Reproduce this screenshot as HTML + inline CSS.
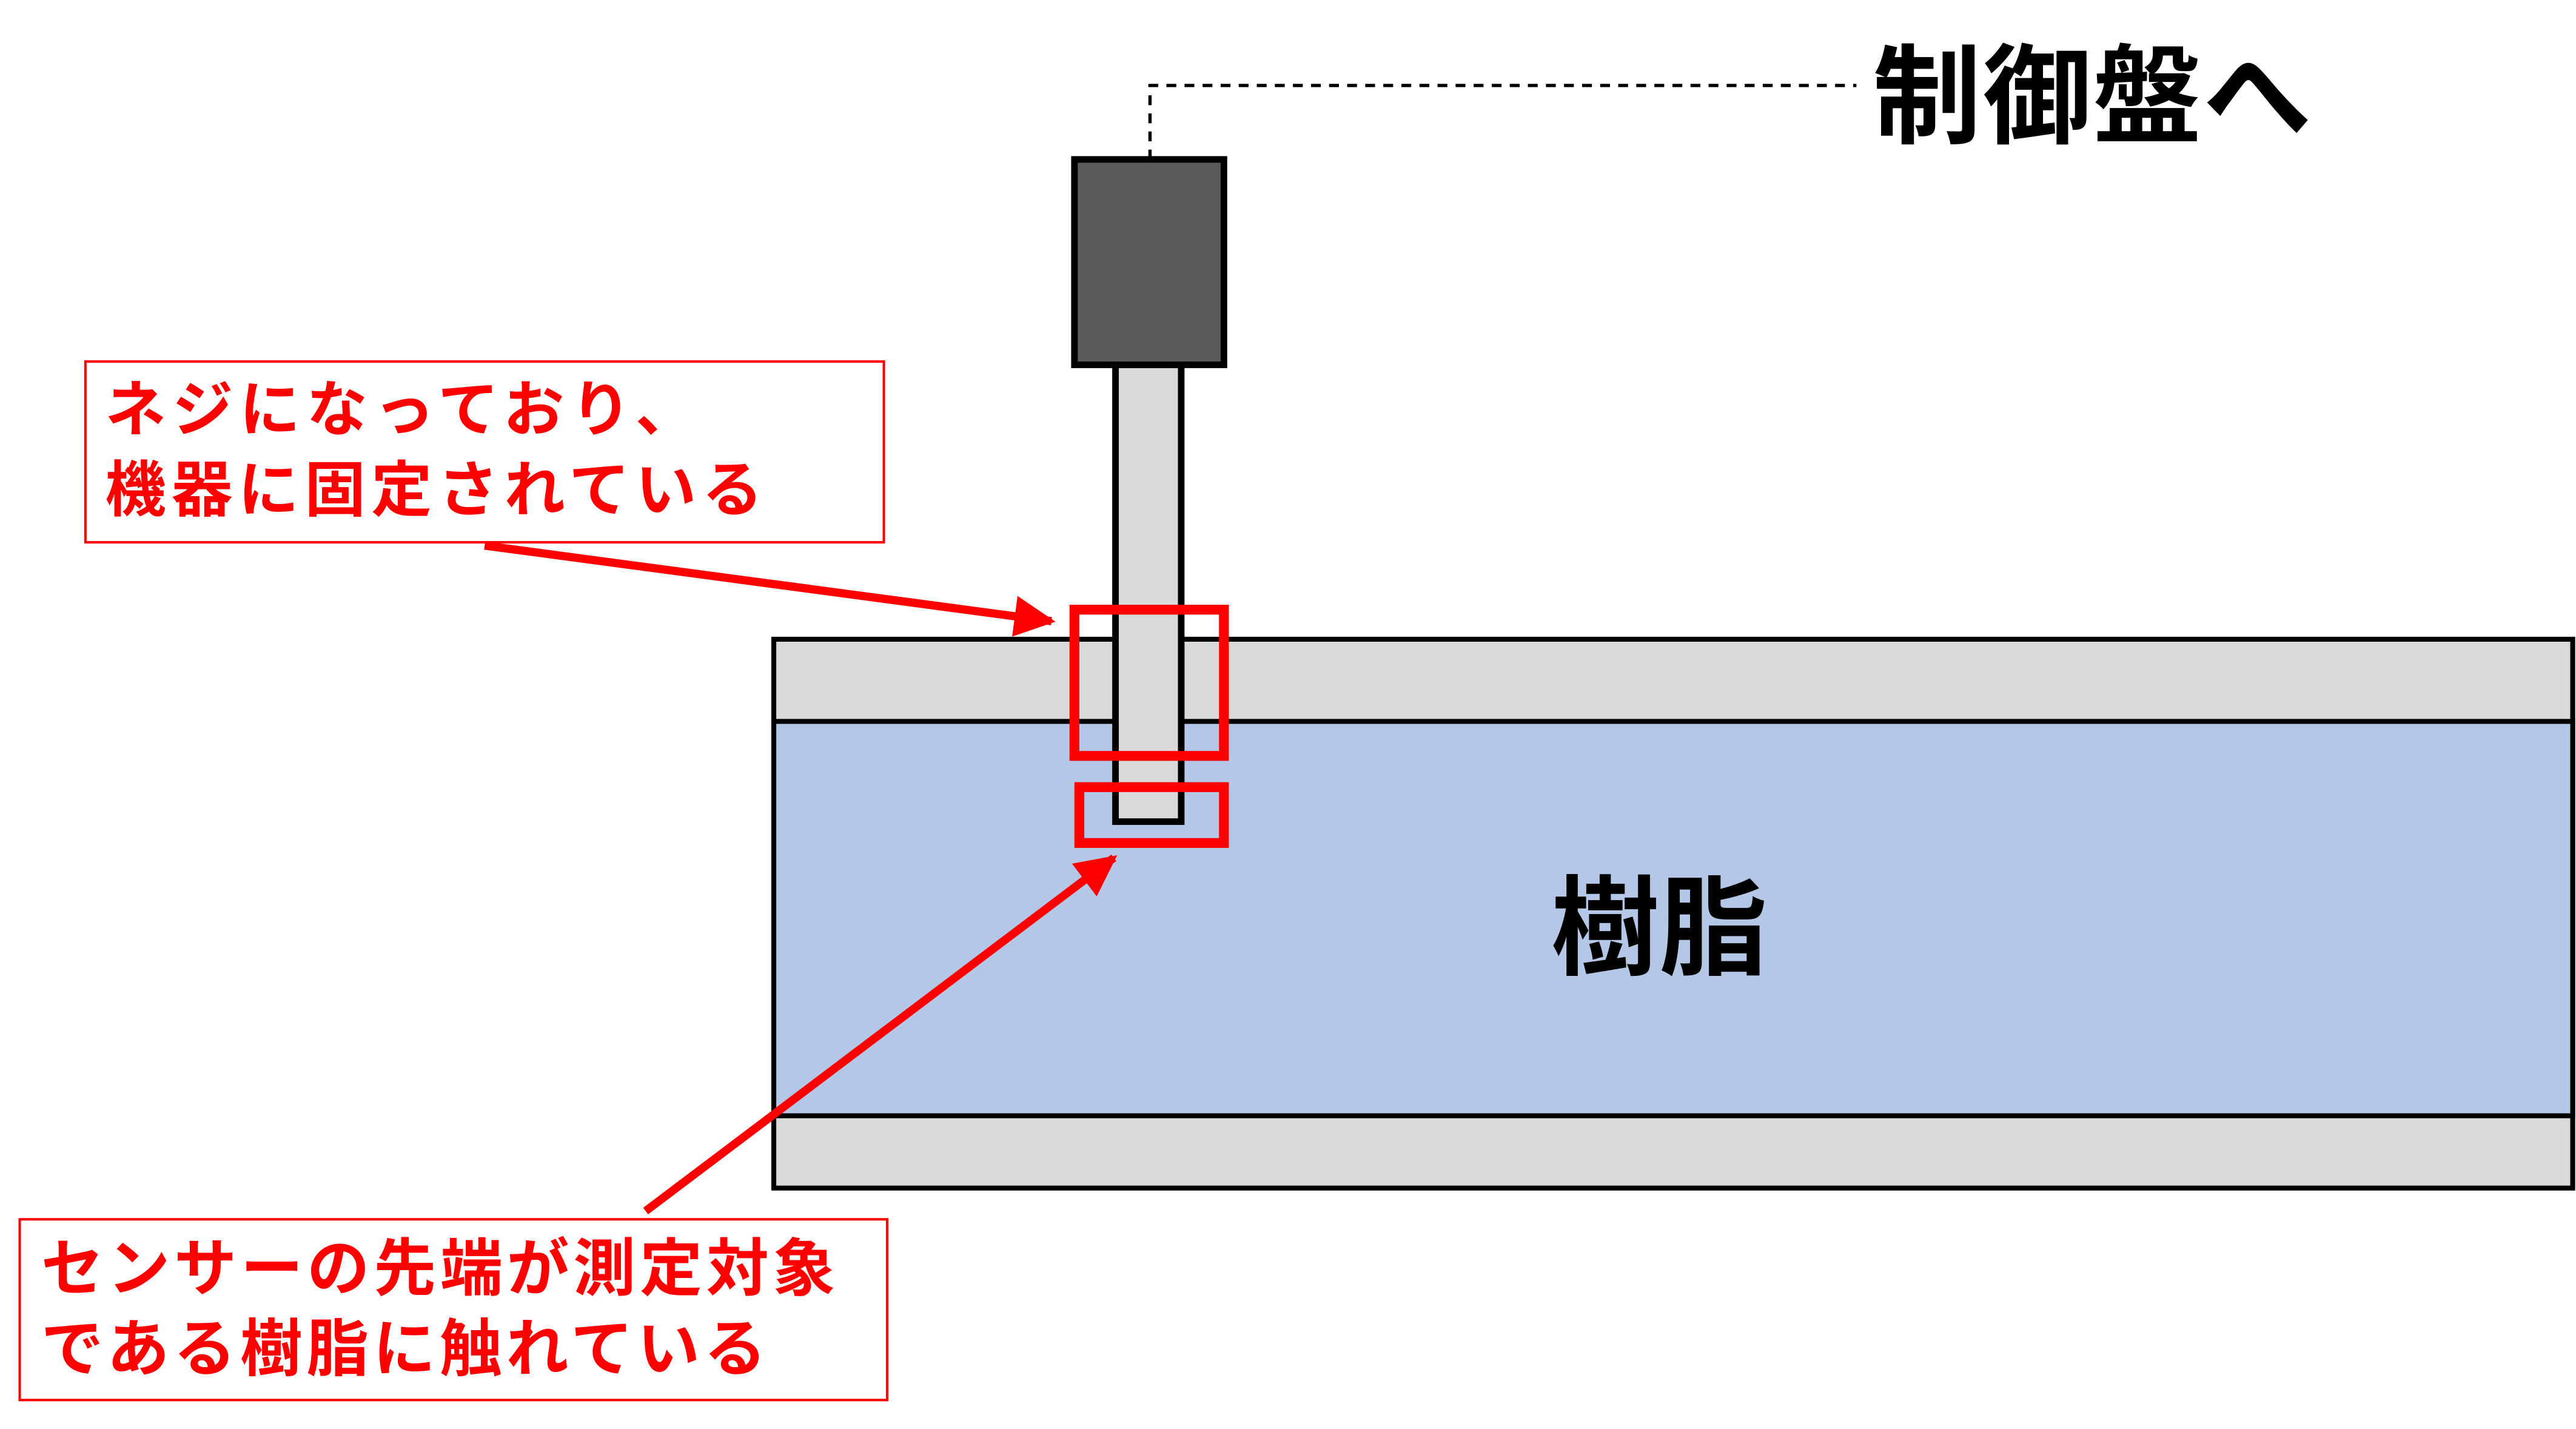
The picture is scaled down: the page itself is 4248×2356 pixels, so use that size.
<!DOCTYPE html>
<html><head><meta charset="utf-8"><style>
html,body{margin:0;padding:0;background:#fff;}
svg{display:block;}
text{font-family:"Liberation Sans","Noto Sans CJK JP",sans-serif;font-weight:bold;}
</style></head><body>
<svg width="4248" height="2356" viewBox="0 0 1568 869.6" xmlns="http://www.w3.org/2000/svg">
<defs>
<marker id="ah" viewBox="0 0 10 10" refX="9" refY="5" markerWidth="5" markerHeight="5" orient="auto" markerUnits="strokeWidth">
<path d="M0,0 L10,5 L0,10 z" fill="#ff0000"/>
</marker>
</defs>
<path d="M700,97 L700,52 L1130,52" fill="none" stroke="#000" stroke-width="2" stroke-dasharray="6,5"/>
<text x="1140" y="82" font-size="66" fill="#000" letter-spacing="1">制御盤へ</text>
<rect x="471" y="389" width="1095" height="334" fill="#d9d9d9" stroke="#000" stroke-width="3"/>
<rect x="471" y="439" width="1095" height="240" fill="#b4c7e7" stroke="#000" stroke-width="3"/>
<text x="1010" y="588" font-size="66" fill="#000" text-anchor="middle">樹脂</text>
<rect x="679" y="222" width="40" height="278" fill="#d9d9d9" stroke="#000" stroke-width="4"/>
<rect x="654" y="97" width="91" height="125" fill="#5a5a5a" stroke="#000" stroke-width="4"/>
<rect x="654" y="371" width="91" height="89" fill="none" stroke="#ff0000" stroke-width="6"/>
<rect x="657" y="479" width="88" height="34" fill="none" stroke="#ff0000" stroke-width="6"/>
<rect x="52" y="220" width="486" height="110" fill="#fff" stroke="#ff0000" stroke-width="1.5"/>
<text x="64" y="262" font-size="37" fill="#ff0000" letter-spacing="3.9">ネジになっており、</text>
<text x="64" y="311" font-size="37" fill="#ff0000" letter-spacing="3.5">機器に固定されている</text>
<line x1="295" y1="332" x2="640" y2="378" stroke="#ff0000" stroke-width="5" marker-end="url(#ah)"/>
<rect x="12" y="742" width="528" height="110" fill="#fff" stroke="#ff0000" stroke-width="1.5"/>
<text x="25" y="785" font-size="38" fill="#ff0000" letter-spacing="2.5">センサーの先端が測定対象</text>
<text x="25" y="834" font-size="38" fill="#ff0000" letter-spacing="2.5">である樹脂に触れている</text>
<line x1="393" y1="737" x2="678" y2="522" stroke="#ff0000" stroke-width="5" marker-end="url(#ah)"/>
</svg>
</body></html>
